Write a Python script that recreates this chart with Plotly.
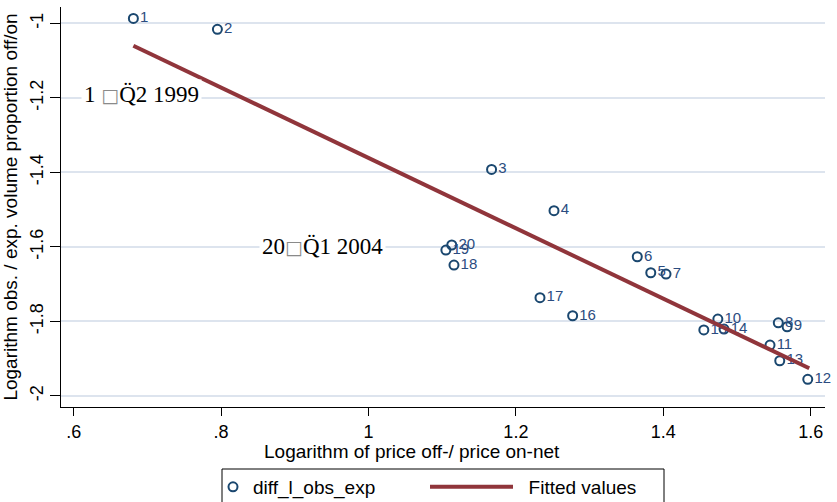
import plotly.graph_objects as go

# ---- data ----
point_ids = [str(i) for i in range(1, 21)]
log_price = [0.681, 0.795, 1.167, 1.2517, 1.383, 1.3647, 1.4037, 1.556, 1.568, 1.474,
             1.5448, 1.596, 1.558, 1.4824, 1.455, 1.277, 1.2327, 1.116, 1.105, 1.113]
diff_l_obs_exp = [-0.9866, -1.016, -1.392, -1.503, -1.6695, -1.6266, -1.673, -1.804, -1.8145, -1.794,
                  -1.8636, -1.9557, -1.9058, -1.8207, -1.823, -1.785, -1.7366, -1.649, -1.6086, -1.595]
fit_x = [0.681, 1.598]
fit_y = [-1.060, -1.926]

x_tickvals = [0.6, 0.8, 1.0, 1.2, 1.4, 1.6]
x_ticktext = [".6", ".8", "1", "1.2", "1.4", "1.6"]
y_tickvals = [-1.0, -1.2, -1.4, -1.6, -1.8, -2.0]
y_ticktext = ["-1", "-1.2", "-1.4", "-1.6", "-1.8", "-2"]

note_x = [0.692, 0.937]
note_y = [-1.19, -1.598]
BOX = '<span style="font-family:DejaVu Sans;font-size:19px;color:#8a8a8a">\u25a1</span>'
note_text = ['1 ' + BOX + 'Q\u03082 1999',
             '20' + BOX + 'Q\u03081 2004']

SANS = "Arial, Liberation Sans, sans-serif"
NAVY = "#1a476f"
MAROON = "#90353b"

# plot-area geometry in pixels (for paper-coordinate placement)
L, R, T, B = 61, 825, 7, 407
PW, PH = R - L, B - T


def px_x(p):
    return (p - L) / PW


def px_y(p):
    return (B - p) / PH


fig = go.Figure()
fig.add_trace(go.Scatter(
    x=log_price, y=diff_l_obs_exp, mode="markers+text", name="diff_l_obs_exp",
    text=point_ids, textposition="middle right",
    textfont=dict(family=SANS, size=15, color="#2b4c80"),
    marker=dict(symbol="circle-open", size=9, color=NAVY, line=dict(width=2, color=NAVY)),
    cliponaxis=False, legend="legend",
))
fig.add_trace(go.Scatter(
    x=fit_x, y=fit_y, mode="lines", name="\u00a0\u00a0Fitted values",
    line=dict(color=MAROON, width=4), legend="legend2",
))

for xv, yv, tx in zip(note_x, note_y, note_text):
    fig.add_annotation(x=xv, y=yv, xref="x", yref="y", text=tx, showarrow=False,
                       font=dict(family="Times New Roman, Liberation Serif, serif", size=23, color="black"),
                       bgcolor="white", borderpad=2, xanchor="center", yanchor="middle")

fig.add_annotation(x=px_x(411.5), y=px_y(451), xref="paper", yref="paper",
                   text="Logarithm of price off-/ price on-net", showarrow=False,
                   font=dict(family=SANS, size=19, color="black"), xanchor="center", yanchor="middle")

# legend frame
fig.add_shape(type="rect", xref="paper", yref="paper",
              x0=px_x(222), x1=px_x(664), y0=px_y(469), y1=px_y(515),
              line=dict(color="black", width=1), fillcolor="white", layer="below")

leg_common = dict(orientation="h", yanchor="middle", y=px_y(487), xanchor="left",
                  borderwidth=0, bgcolor="rgba(0,0,0,0)",
                  font=dict(family=SANS, size=19, color="black"))

fig.update_layout(
    width=837, height=502,
    margin=dict(l=L, r=837 - R, t=T, b=502 - B, autoexpand=False),
    paper_bgcolor="white", plot_bgcolor="white",
    font=dict(family=SANS, size=18, color="black"),
    showlegend=True,
    legend=dict(x=px_x(213), itemwidth=30, **leg_common),
    legend2=dict(x=px_x(425), itemwidth=83, **leg_common),
    xaxis=dict(range=[0.5828, 1.6194], tickvals=x_tickvals, ticktext=x_ticktext, automargin=False,
               showgrid=False, zeroline=False, showline=True, linecolor="black", linewidth=1,
               ticks="outside", ticklen=8, tickcolor="black", tickfont=dict(size=18)),
    yaxis=dict(range=[-2.030, -0.956], tickvals=y_tickvals, ticktext=y_ticktext, automargin=False,
               showgrid=True, gridcolor="#dde4ee", gridwidth=1.5, zeroline=False,
               showline=True, linecolor="black", linewidth=1,
               ticks="outside", ticklen=10, tickcolor="black", tickangle=-90, tickfont=dict(size=18),
               title=dict(text="Logarithm obs. / exp. volume proportion off/on",
                          font=dict(family=SANS, size=19), standoff=6)),
)

fig.write_html("out.html", config={"displayModeBar": False},
               post_script="document.body.style.margin='0px';document.body.style.overflow='hidden';")
